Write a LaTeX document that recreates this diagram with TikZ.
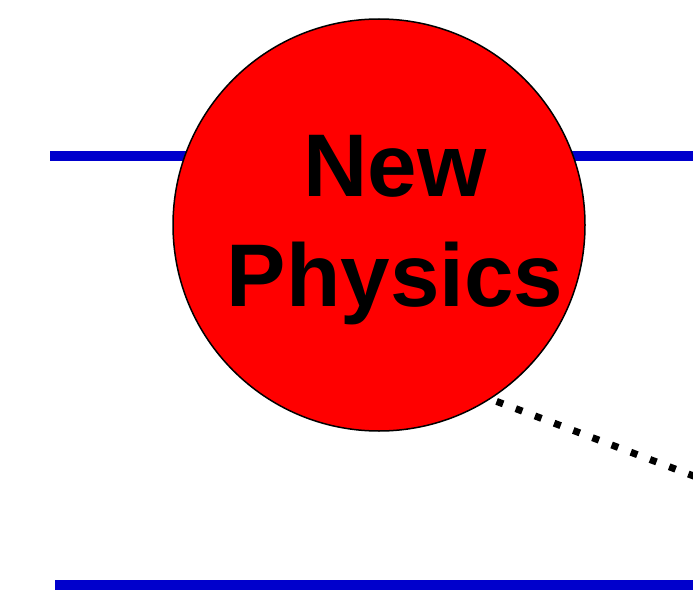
\documentclass[tikz,border=0pt]{standalone}
\usepackage{fontspec}
\setmainfont{Liberation Sans}
\usetikzlibrary{positioning}

\begin{document}
\begin{tikzpicture}[x=1pt, y=-1pt,
  hline/.style={draw=blue!80!black, line width=10pt},
  blob/.style={circle, draw=black, line width=1.5pt, fill=red,
               minimum size=412pt, inner sep=0pt},
  lbl/.style={align=center, inner sep=0pt,
              font=\fontsize{89}{110}\selectfont\bfseries},
  dotline/.style={draw=black, line width=7pt, dash pattern=on 7pt off 13.5pt}
]
  \useasboundingbox (0,0) rectangle (693,591);
  \clip (0,0) rectangle (693,591);
  % fermion lines
  \coordinate (t0) at (50,156);  \coordinate (t1) at (720,156);
  \coordinate (b0) at (55,585);  \coordinate (b1) at (720,585);
  \draw[hline] (t0) -- (t1);
  \draw[hline] (b0) -- (b1);
  % blob
  \node[blob] (np) at (379,225) {};
  \node[lbl] (nptxt) at (395,230) {New\\Physics};
  % dotted leg
  \coordinate (d1) at (720,486);
  \draw[dotline] ([shift={(5,3)}]np.-57.6) -- (d1);
\end{tikzpicture}
\end{document}
